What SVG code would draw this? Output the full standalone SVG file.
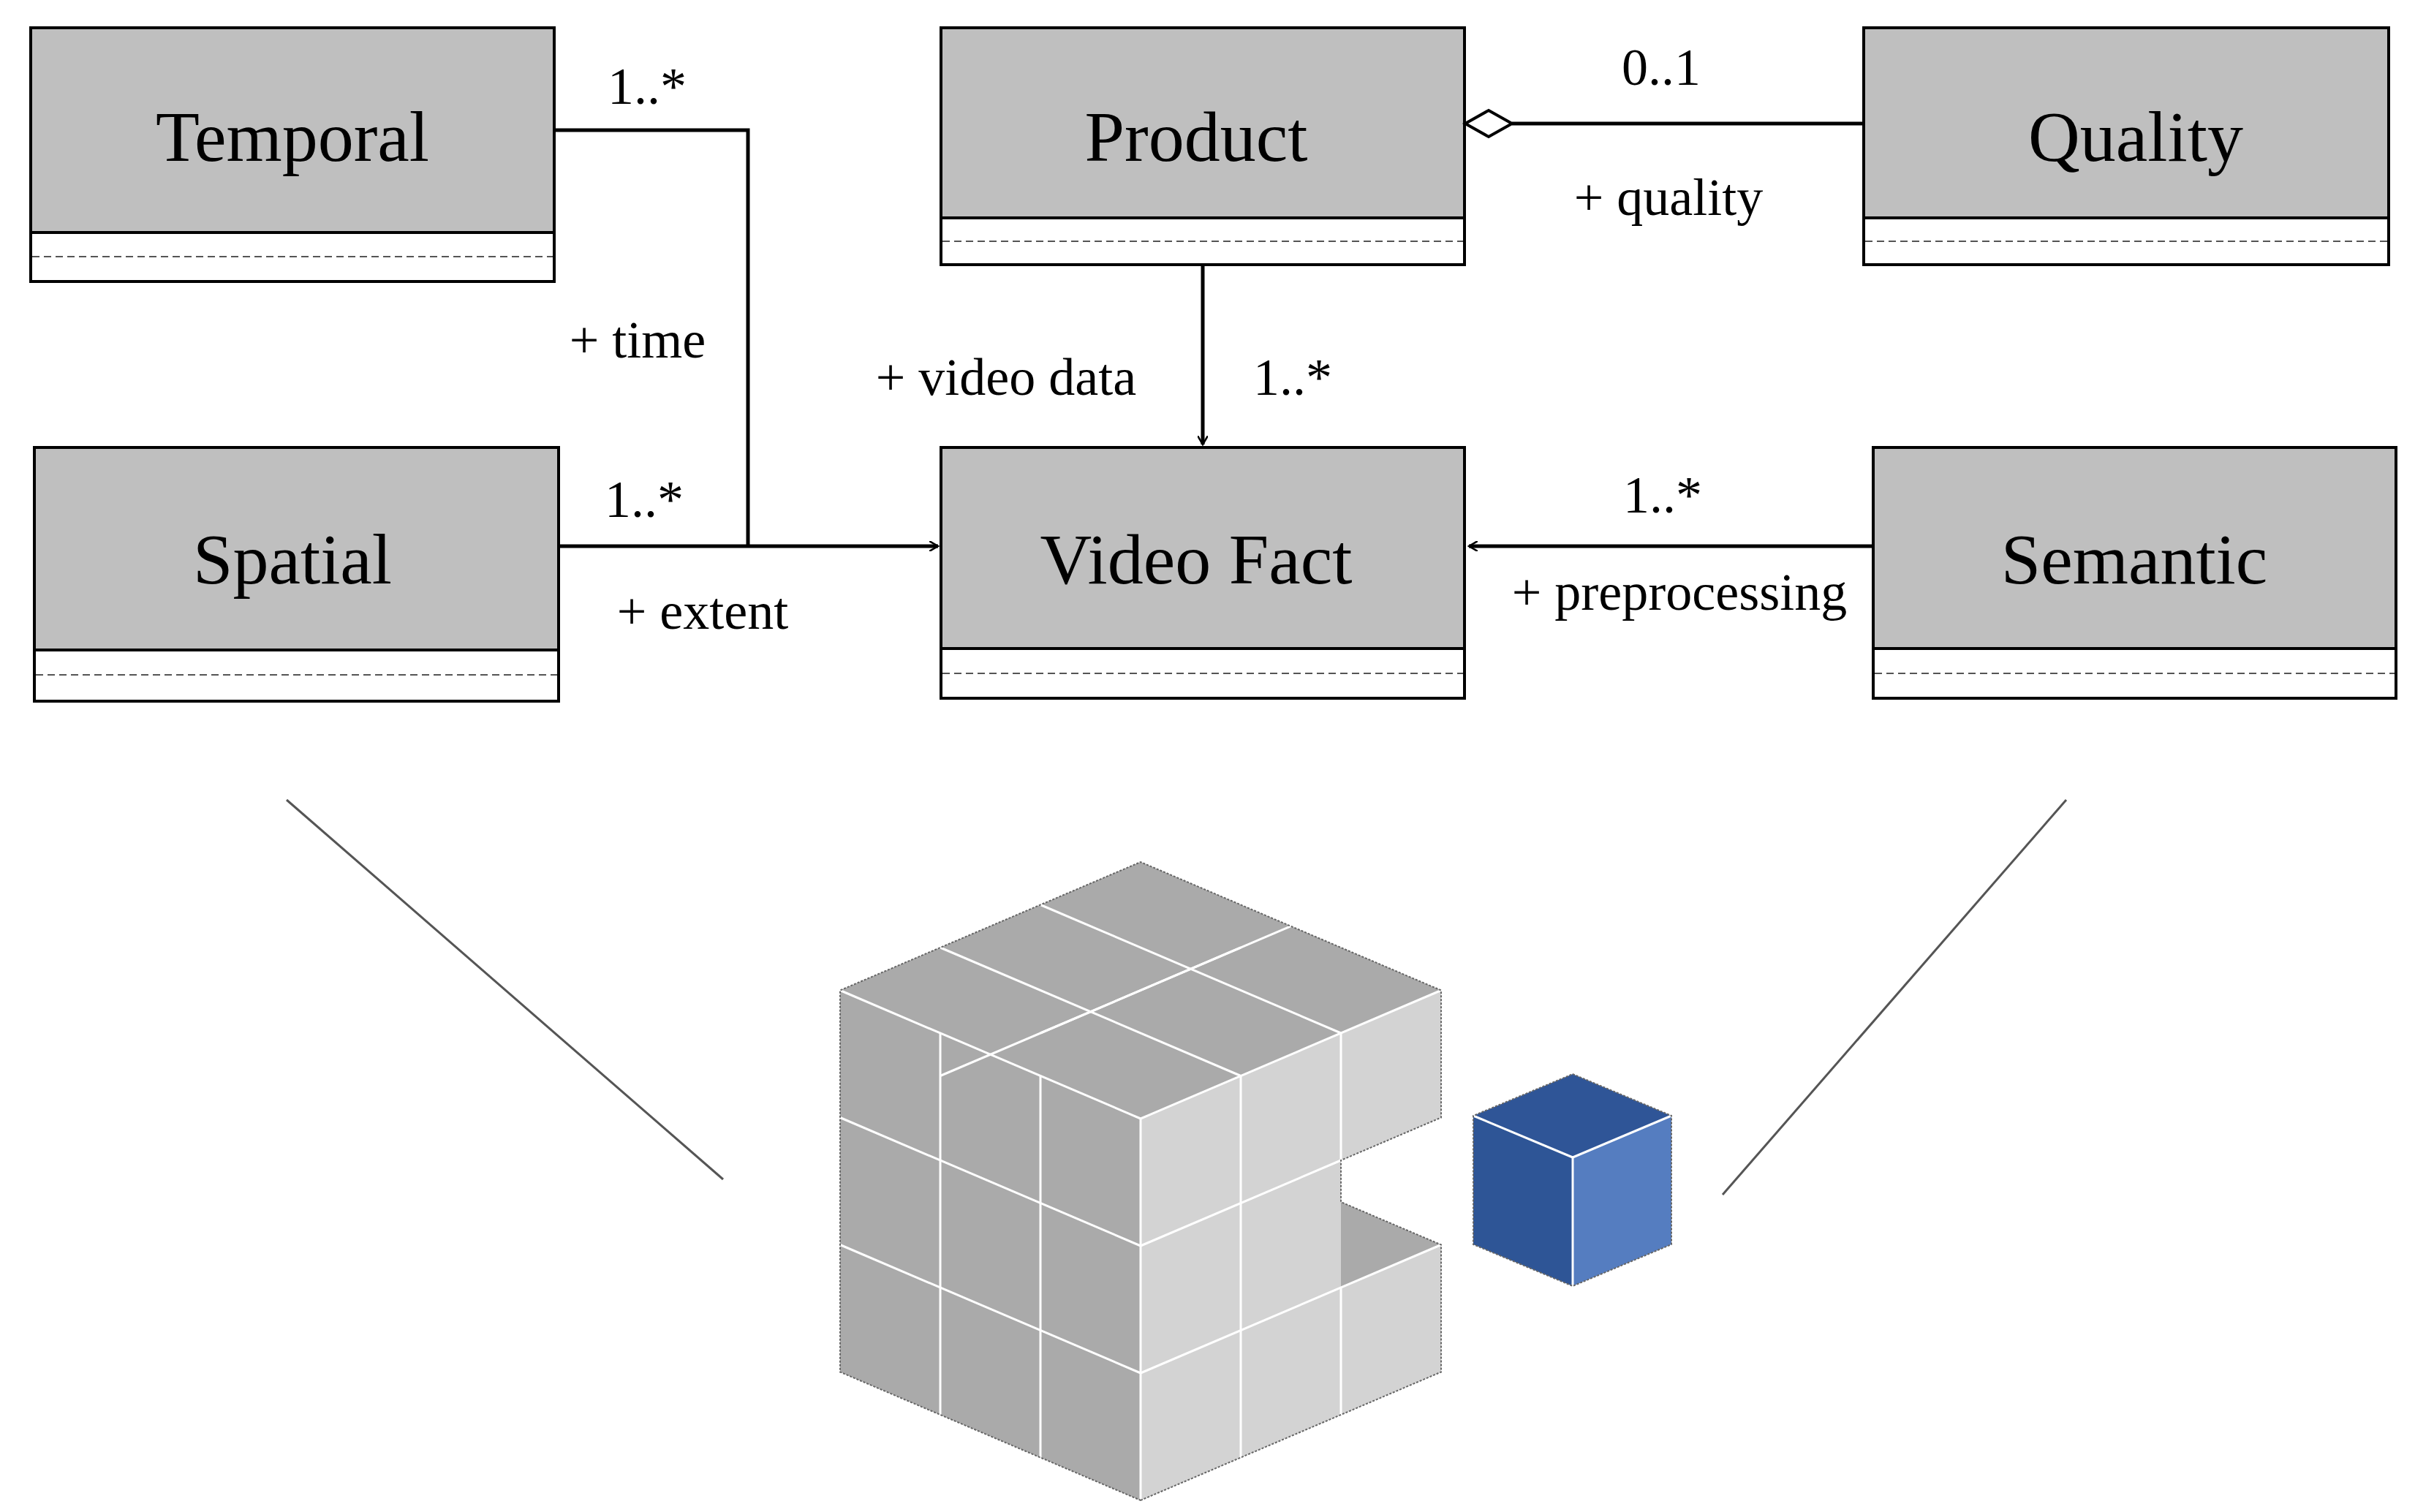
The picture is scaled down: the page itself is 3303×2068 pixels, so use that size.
<svg xmlns="http://www.w3.org/2000/svg" width="3303" height="2068" viewBox="0 0 3303 2068">
<style>
.box{fill:#fff;stroke:#000;stroke-width:4}
.hdr{fill:#bfbfbf;stroke:#000;stroke-width:4}
.dash{stroke:#555;stroke-width:2;stroke-dasharray:10 6}
.name{font-family:"Liberation Serif",serif;font-size:98px;text-anchor:middle;fill:#000}
.lbl{font-family:"Liberation Serif",serif;font-size:72px;text-anchor:middle;fill:#000}
.con{fill:none;stroke:#000;stroke-width:5}
.g{stroke:#fff;stroke-width:3;fill:none}
.edge{stroke:#666;stroke-width:2;stroke-dasharray:3 2;fill:none}
</style>
<defs>
<marker id="open" markerWidth="14" markerHeight="14" refX="12" refY="7" orient="auto" markerUnits="userSpaceOnUse" viewBox="0 0 14 14">
<path d="M0,0 L12,7 L0,14" fill="none" stroke="#000" stroke-width="2.5"/>
</marker>
</defs>
<rect width="3303" height="2068" fill="#fff"/>

<g id="temporal">
<rect class="box" x="42" y="38" width="716" height="347"/>
<rect class="hdr" x="42" y="38" width="716" height="280"/>
<line class="dash" x1="44" y1="351" x2="756" y2="351"/>
<text class="name" x="400" y="220">Temporal</text>
</g>
<g id="product">
<rect class="box" x="1287" y="38" width="716" height="324"/>
<rect class="hdr" x="1287" y="38" width="716" height="260"/>
<line class="dash" x1="1289" y1="330" x2="2001" y2="330"/>
<text class="name" x="1636" y="220">Product</text>
</g>
<g id="quality">
<rect class="box" x="2549" y="38" width="718" height="324"/>
<rect class="hdr" x="2549" y="38" width="718" height="260"/>
<line class="dash" x1="2551" y1="330" x2="3265" y2="330"/>
<text class="name" x="2921" y="220">Quality</text>
</g>
<g id="spatial">
<rect class="box" x="47" y="612" width="717" height="347"/>
<rect class="hdr" x="47" y="612" width="717" height="277"/>
<line class="dash" x1="49" y1="923" x2="762" y2="923"/>
<text class="name" x="400" y="798">Spatial</text>
</g>
<g id="videofact">
<rect class="box" x="1287" y="612" width="716" height="343"/>
<rect class="hdr" x="1287" y="612" width="716" height="275"/>
<line class="dash" x1="1289" y1="921" x2="2001" y2="921"/>
<text class="name" x="1636" y="798">Video Fact</text>
</g>
<g id="semantic">
<rect class="box" x="2562" y="612" width="715" height="343"/>
<rect class="hdr" x="2562" y="612" width="715" height="275"/>
<line class="dash" x1="2564" y1="921" x2="3275" y2="921"/>
<text class="name" x="2919" y="798">Semantic</text>
</g>

<g id="connectors">
<polyline class="con" points="758,178 1023,178 1023,747"/>
<line class="con" x1="764" y1="747" x2="1283" y2="747" marker-end="url(#open)"/>
<line class="con" x1="1645" y1="362" x2="1645" y2="608" marker-end="url(#open)"/>
<line class="con" x1="2562" y1="747" x2="2009" y2="747" marker-end="url(#open)"/>
<line class="con" x1="2068" y1="169" x2="2549" y2="169"/>
<path d="M2004,169 L2036,151 L2068,169 L2036,187 Z" fill="#fff" stroke="#000" stroke-width="4"/>
<text class="lbl" x="885" y="142">1..*</text>
<text class="lbl" x="872" y="489">+ time</text>
<text class="lbl" x="1376" y="540">+ video data</text>
<text class="lbl" x="1768" y="540">1..*</text>
<text class="lbl" x="2272" y="116">0..1</text>
<text class="lbl" x="2282" y="294">+ quality</text>
<text class="lbl" x="881" y="707">1..*</text>
<text class="lbl" x="961" y="860">+ extent</text>
<text class="lbl" x="2274" y="701">1..*</text>
<text class="lbl" x="2297" y="834">+ preprocessing</text>
</g>

<g id="zoomlines" stroke="#555" stroke-width="3">
<line x1="392" y1="1094" x2="989" y2="1613"/>
<line x1="2826" y1="1094" x2="2356" y2="1634"/>
</g>

<g id="datacube">
<polygon points="1560,1530 1971,1354.5 1560,1179 1149,1354.5" fill="#aaaaaa"/>
<polygon points="1560,2052 1560,1530 1149,1354.5 1149,1876.5" fill="#aaaaaa"/>
<polygon points="1560,2052 1971,1876.5 1971,1702.5 1834,1761 1834,1587 1971,1528.5 1971,1354.5 1560,1530" fill="#d3d3d3"/>
<polygon points="1834,1761 1971,1702.5 1834,1644" fill="#aaaaaa"/>
<g class="g">
<line x1="1423" y1="1413" x2="1834" y2="1237.5"/>
<line x1="1286" y1="1471.5" x2="1697" y2="1296"/>
<line x1="1697" y1="1471.5" x2="1286" y2="1296"/>
<line x1="1834" y1="1413" x2="1423" y2="1237.5"/>
<line x1="1560" y1="1530" x2="1149" y2="1354.5"/>
<line x1="1560" y1="1530" x2="1971" y2="1354.5"/>
<line x1="1560" y1="1530" x2="1560" y2="2052"/>
<line x1="1423" y1="1993.5" x2="1423" y2="1471.5"/>
<line x1="1286" y1="1935" x2="1286" y2="1413"/>
<line x1="1560" y1="1878" x2="1149" y2="1702.5"/>
<line x1="1560" y1="1704" x2="1149" y2="1528.5"/>
<line x1="1697" y1="1993.5" x2="1697" y2="1471.5"/>
<line x1="1834" y1="1935" x2="1834" y2="1761"/>
<line x1="1834" y1="1587" x2="1834" y2="1413"/>
<line x1="1560" y1="1878" x2="1971" y2="1702.5"/>
<line x1="1560" y1="1704" x2="1834" y2="1587"/>
</g>
<polygon class="edge" points="1560,2052 1971,1876.5 1971,1702.5 1834,1644 1834,1587 1971,1528.5 1971,1354.5 1560,1179 1149,1354.5 1149,1876.5"/>
</g>

<g id="bluecube">
<polygon points="2151,1469 2286,1526 2151,1583 2015,1526" fill="#2f5597"/>
<polygon points="2015,1526 2151,1583 2151,1759 2015,1702" fill="#2e5596"/>
<polygon points="2151,1583 2286,1526 2286,1702 2151,1759" fill="#557dc0"/>
<g class="g" stroke-width="2.5">
<polyline points="2015,1526 2151,1583 2286,1526"/>
<line x1="2151" y1="1583" x2="2151" y2="1759"/>
</g>
<polygon class="edge" points="2151,1469 2286,1526 2286,1702 2151,1759 2015,1702 2015,1526"/>
</g>
</svg>
